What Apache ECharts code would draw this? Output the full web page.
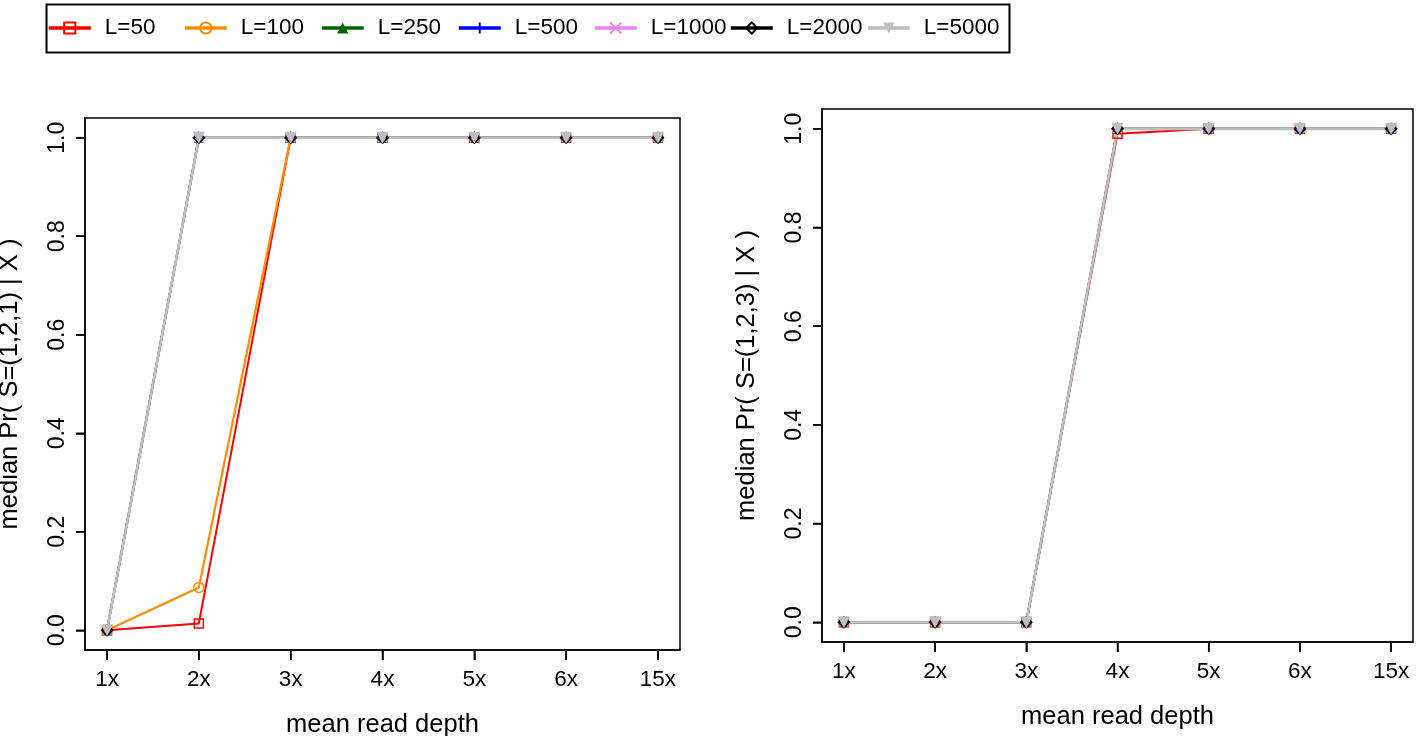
<!DOCTYPE html>
<html>
<head>
<meta charset="utf-8">
<script src="https://cdn.jsdelivr.net/npm/echarts@6/dist/echarts.min.js"></script>
<style>html,body{margin:0;padding:0;background:#fff}#c{width:1416px;height:736px}</style>
</head>
<body>
<div id="c"></div>
<script>
const categories = ['1x','2x','3x','4x','5x','6x','15x'];
const seriesNames = ['L=50','L=100','L=250','L=500','L=1000','L=2000','L=5000'];
const yTicks = [0, 0.2, 0.4, 0.6, 0.8, 1.0];

// Left panel: median Pr( S=(1,2,1) | X )
const left_L50   = [0, 0.014, 1, 1, 1, 1, 1];
const left_L100  = [0, 0.087, 1, 1, 1, 1, 1];
const left_L250  = [0, 1, 1, 1, 1, 1, 1];
const left_L500  = [0, 1, 1, 1, 1, 1, 1];
const left_L1000 = [0, 1, 1, 1, 1, 1, 1];
const left_L2000 = [0, 1, 1, 1, 1, 1, 1];
const left_L5000 = [0, 1, 1, 1, 1, 1, 1];

// Right panel: median Pr( S=(1,2,3) | X )
const right_L50   = [0, 0, 0, 0.99, 1, 1, 1];
const right_L100  = [0, 0, 0, 1, 1, 1, 1];
const right_L250  = [0, 0, 0, 1, 1, 1, 1];
const right_L500  = [0, 0, 0, 1, 1, 1, 1];
const right_L1000 = [0, 0, 0, 1, 1, 1, 1];
const right_L2000 = [0, 0, 0, 1, 1, 1, 1];
const right_L5000 = [0, 0, 0, 1, 1, 1, 1];

const leftData  = [left_L50, left_L100, left_L250, left_L500, left_L1000, left_L2000, left_L5000];
const rightData = [right_L50, right_L100, right_L250, right_L500, right_L1000, right_L2000, right_L5000];

const colors = ['#FF0000', '#FF8C00', '#006400', '#0000FF', '#EE82EE', '#000000', '#BEBEBE'];
const lineWidths = [2, 2.2, 2, 2, 2, 2, 2.8];
const symbols = [
  {symbol: 'rect', size: 9, empty: true},
  {symbol: 'circle', size: 10, empty: true},
  {symbol: 'triangle', size: 10, empty: false},
  {symbol: 'path://M0,5L10,5M5,0L5,10', size: 10, empty: true, stroke: true},
  {symbol: 'path://M0,0L10,10M10,0L0,10', size: 9, empty: true, stroke: true},
  {symbol: 'diamond', size: 11, empty: true},
  {symbol: 'triangle', size: 12, empty: false, rotate: 180}
];

const FONT = 'Liberation Sans, Arial, Helvetica, sans-serif';
const xPos = categories.map((c, i) => i + 1);
const X_MIN = 0.76, X_MAX = 7.24, Y_MIN = -0.04, Y_MAX = 1.04;

function makeX(gridIndex) {
  return {
    type: 'value', gridIndex: gridIndex, min: X_MIN, max: X_MAX, position: 'bottom',
    name: 'mean read depth', nameLocation: 'middle', nameGap: 62,
    nameTextStyle: {fontFamily: FONT, fontSize: 25.5, color: '#000'},
    axisLine: {show: true, onZero: false, lineStyle: {color: '#000', width: 1.5}},
    splitLine: {show: false},
    axisTick: {show: true, customValues: xPos, length: 10, inside: false, lineStyle: {color: '#000', width: 1.5}},
    axisLabel: {customValues: xPos, margin: 18, fontFamily: FONT, fontSize: 22.5, color: '#000',
      formatter: v => categories[Math.round(v) - 1] || ''}
  };
}
function makeY(gridIndex, title) {
  return {
    type: 'value', gridIndex: gridIndex, min: Y_MIN, max: Y_MAX, position: 'left',
    name: title, nameLocation: 'middle', nameGap: 62, nameRotate: 90,
    nameTextStyle: {fontFamily: FONT, fontSize: 25.5, color: '#000'},
    axisLine: {show: true, onZero: false, lineStyle: {color: '#000', width: 1.5}},
    splitLine: {show: false},
    axisTick: {show: true, customValues: yTicks, length: 9, inside: false, lineStyle: {color: '#000', width: 1.5}},
    axisLabel: {customValues: yTicks, rotate: 90, margin: 16, fontFamily: FONT, fontSize: 23, color: '#000',
      formatter: v => v.toFixed(1)}
  };
}

function makeSeries(dataSets, axisIndex) {
  return dataSets.map((vals, k) => {
    const s = symbols[k];
    return {
      type: 'line', name: seriesNames[k], xAxisIndex: axisIndex, yAxisIndex: axisIndex,
      data: vals.map((v, i) => [xPos[i], v]),
      symbol: s.symbol, symbolSize: s.size, symbolRotate: s.rotate || 0,
      showAllSymbol: true, animation: false,
      lineStyle: {color: colors[k], width: lineWidths[k]},
      itemStyle: s.empty
        ? {color: s.stroke ? colors[k] : 'rgba(255,255,255,0)', borderColor: colors[k], borderWidth: 1.5}
        : {color: colors[k], borderWidth: 0},
      emphasis: {disabled: true}
    };
  });
}

const legendIconLeft = [42, 178, 315, 452, 588, 724, 861];
const legends = seriesNames.map((n, k) => ({
  data: [n], left: legendIconLeft[k], top: 10, orient: 'horizontal',
  itemWidth: 42, itemHeight: 14, selectedMode: false,
  lineStyle: {width: 3.5},
  textStyle: {fontFamily: FONT, fontSize: 22.5, color: '#000', padding: [0, 0, 0, 9], lineHeight: 26}
}));

const legendBox = {
  type: 'rect', left: 44, top: 2, shape: {width: 963, height: 48},
  style: {fill: 'none', stroke: '#000', lineWidth: 2}, silent: true
};

const chart = echarts.init(document.getElementById('c'), null, {renderer: 'canvas'});
chart.setOption({
  animation: false,
  legend: legends,
  graphic: [legendBox],
  grid: [
    {left: 85, top: 118, width: 595, height: 532, show: true, borderColor: '#000', borderWidth: 1.5,
     containLabel: false, outerBoundsMode: 'none'},
    {left: 822, top: 109, width: 591, height: 533, show: true, borderColor: '#000', borderWidth: 1.5,
     containLabel: false, outerBoundsMode: 'none'}
  ],
  xAxis: [makeX(0), makeX(1)],
  yAxis: [makeY(0, 'median Pr( S=(1,2,1) | X )'), makeY(1, 'median Pr( S=(1,2,3) | X )')],
  series: makeSeries(leftData, 0).concat(makeSeries(rightData, 1))
});

// Outward tick marks, positioned through the axes' own scales
const tickEls = [];
[0, 1].forEach(gi => {
  xPos.forEach(x => {
    const p = chart.convertToPixel({gridIndex: gi}, [x, Y_MIN]);
    if (p && isFinite(p[0]) && isFinite(p[1])) {
      tickEls.push({type: 'line', silent: true, z: 100,
        shape: {x1: p[0], y1: p[1], x2: p[0], y2: p[1] + 10},
        style: {stroke: '#000', lineWidth: 1.5}});
    }
  });
  yTicks.forEach(y => {
    const p = chart.convertToPixel({gridIndex: gi}, [X_MIN, y]);
    if (p && isFinite(p[0]) && isFinite(p[1])) {
      tickEls.push({type: 'line', silent: true, z: 100,
        shape: {x1: p[0] - 9, y1: p[1], x2: p[0], y2: p[1]},
        style: {stroke: '#000', lineWidth: 1.5}});
    }
  });
});
chart.setOption({graphic: [legendBox].concat(tickEls)}, {replaceMerge: ['graphic']});
</script>
</body>
</html>
